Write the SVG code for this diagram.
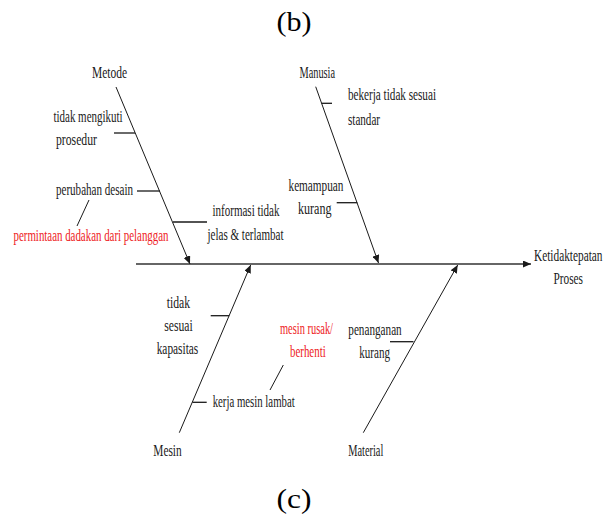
<svg xmlns="http://www.w3.org/2000/svg" width="613" height="515" viewBox="0 0 613 515">
<style>
text{font-family:"Liberation Serif","Times New Roman",serif;font-size:16px;fill:#1a1a1a}
.red{fill:#ee1c25}
.title{font-size:27px;fill:#000}
.bone{stroke:#1a1a1a;stroke-width:1;fill:none}
.spine{stroke:#333;stroke-width:1.6;fill:none}
.tick{stroke:#1a1a1a;stroke-width:1.3;fill:none}
</style>
<defs>
<marker id="ah" markerUnits="userSpaceOnUse" markerWidth="9" markerHeight="7" refX="8" refY="3.5" orient="auto">
<path d="M0,0 L8,3.5 L0,7 z" fill="#1a1a1a"/>
</marker>
</defs>
<rect width="613" height="515" fill="#fff"/>
<g id="title-b"><text class="title" x="276.5" y="31" textLength="35" lengthAdjust="spacingAndGlyphs">(b)</text></g>
<g id="title-c"><text class="title" x="276.5" y="508" textLength="35" lengthAdjust="spacingAndGlyphs">(c)</text></g>
<g id="connectors">
<line class="spine" x1="136" y1="264" x2="531" y2="264" marker-end="url(#ah)"/>
<line class="bone" x1="116" y1="87" x2="190" y2="264" marker-end="url(#ah)"/>
<line class="bone" x1="315.7" y1="86.7" x2="378.5" y2="263" marker-end="url(#ah)"/>
<line class="bone" x1="179.3" y1="432.7" x2="250.7" y2="265" marker-end="url(#ah)"/>
<line class="bone" x1="363.3" y1="432.7" x2="457.7" y2="265" marker-end="url(#ah)"/>
<line class="tick" x1="114" y1="133" x2="135" y2="133"/>
<line class="tick" x1="137" y1="191" x2="160" y2="191"/>
<line class="tick" x1="173" y1="222" x2="207" y2="222"/>
<line class="bone" x1="89" y1="200" x2="77" y2="226"/>
<line class="tick" x1="321.5" y1="103.3" x2="332" y2="103.3"/>
<line class="tick" x1="336.7" y1="202.7" x2="357.3" y2="202.7"/>
<line class="tick" x1="210.7" y1="315.7" x2="229.2" y2="315.7"/>
<line class="tick" x1="192.4" y1="402.3" x2="206.7" y2="402.3"/>
<line class="bone" x1="283.3" y1="365" x2="270" y2="390"/>
<line class="tick" x1="390" y1="341.7" x2="413.5" y2="341.7"/>
</g>
<g transform="scale(0.75 1)">
<g id="metode"><text x="122.67" y="78" textLength="46.67" lengthAdjust="spacingAndGlyphs">Metode</text></g>
<g id="tidak-mengikuti-prosedur">
<text x="71.33" y="122" textLength="92" lengthAdjust="spacingAndGlyphs">tidak mengikuti</text>
<text x="74.67" y="145" textLength="54.67" lengthAdjust="spacingAndGlyphs">prosedur</text>
</g>
<g id="perubahan-desain"><text x="74.67" y="195" textLength="102.67" lengthAdjust="spacingAndGlyphs">perubahan desain</text></g>
<g id="permintaan-dadakan"><text class="red" x="18" y="241" textLength="206.67" lengthAdjust="spacingAndGlyphs">permintaan dadakan dari pelanggan</text></g>
<g id="informasi-tidak-jelas">
<text x="283.33" y="216" textLength="89.33" lengthAdjust="spacingAndGlyphs">informasi tidak</text>
<text x="276.67" y="240" textLength="101.33" lengthAdjust="spacingAndGlyphs">jelas &amp; terlambat</text>
</g>
<g id="manusia"><text x="399.33" y="78" textLength="47.33" lengthAdjust="spacingAndGlyphs">Manusia</text></g>
<g id="bekerja-tidak-sesuai">
<text x="464" y="100" textLength="117.33" lengthAdjust="spacingAndGlyphs">bekerja tidak sesuai</text>
<text x="464" y="125" textLength="42.67" lengthAdjust="spacingAndGlyphs">standar</text>
</g>
<g id="kemampuan-kurang">
<text x="384.67" y="191" textLength="73.33" lengthAdjust="spacingAndGlyphs">kemampuan</text>
<text x="397.33" y="214" textLength="44.67" lengthAdjust="spacingAndGlyphs">kurang</text>
</g>
<g id="ketidaktepatan-proses">
<text x="712" y="261" textLength="91.33" lengthAdjust="spacingAndGlyphs">Ketidaktepatan</text>
<text x="738" y="284" textLength="39.33" lengthAdjust="spacingAndGlyphs">Proses</text>
</g>
<g id="tidak-sesuai-kapasitas">
<text x="222.27" y="308" textLength="31.07" lengthAdjust="spacingAndGlyphs">tidak</text>
<text x="219.07" y="331" textLength="37.87" lengthAdjust="spacingAndGlyphs">sesuai</text>
<text x="208.93" y="354" textLength="55.47" lengthAdjust="spacingAndGlyphs">kapasitas</text>
</g>
<g id="mesin-rusak">
<text class="red" x="373.33" y="334" textLength="70.67" lengthAdjust="spacingAndGlyphs">mesin rusak/</text>
<text class="red" x="386.67" y="357" textLength="47.6" lengthAdjust="spacingAndGlyphs">berhenti</text>
</g>
<g id="kerja-mesin-lambat"><text x="283.6" y="407" textLength="109.33" lengthAdjust="spacingAndGlyphs">kerja mesin lambat</text></g>
<g id="mesin"><text x="204.4" y="456" textLength="37.87" lengthAdjust="spacingAndGlyphs">Mesin</text></g>
<g id="penanganan-kurang">
<text x="464.4" y="335" textLength="71.2" lengthAdjust="spacingAndGlyphs">penanganan</text>
<text x="479.07" y="358" textLength="40.93" lengthAdjust="spacingAndGlyphs">kurang</text>
</g>
<g id="material"><text x="464.4" y="456" textLength="46.67" lengthAdjust="spacingAndGlyphs">Material</text></g>
</g>
</svg>
